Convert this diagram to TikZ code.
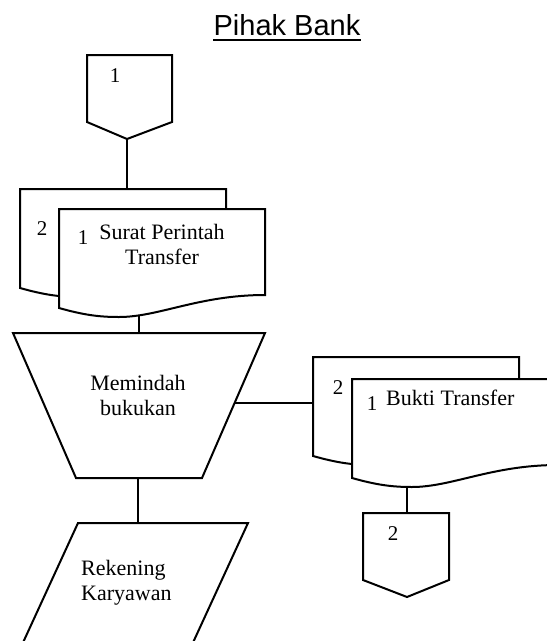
\documentclass[tikz,border=0pt]{standalone}
\usepackage{fontspec}
\setmainfont{Liberation Serif}
\newfontfamily\titlefont{Liberation Sans}
\newcommand{\flowdocshape}[2]{%
  \path[shapeline,shift={(#1,#2)}] (0,0) -- (206,0) -- (206,86)
    .. controls (140,86) and (100,108) .. (60,108)
    .. controls (40,108) and (25,106) .. (0,99) -- cycle;}
\begin{document}
\begin{tikzpicture}[x=1pt,y=-1pt,
  shapeline/.style={draw=black,line width=2pt,fill=white,line join=miter},
  link/.style={draw=black,line width=1.3pt},
  lbl/.style={inner sep=0pt,font=\fontsize{22}{25}\selectfont},
  num/.style={inner sep=0pt,font=\fontsize{21}{24}\selectfont}]
\useasboundingbox (0,0) rectangle (547,641);
\clip (0,0) rectangle (547,641);

% title
\node[inner sep=0pt,anchor=base,font=\titlefont\fontsize{29}{31}\selectfont] (title) at (287,35) {Pihak Bank};
\draw[line width=2pt] ([yshift=-5pt]title.base west) -- ([yshift=-5pt]title.base east);

% off-page connector 1
\path[shapeline] (87,55) -- (172,55) -- (172,122) -- (127,139) -- (87,122) -- cycle;
\coordinate (off1-tip) at (127,139);
\node[num] (off1-num) at (115,76) {1};

% Surat Perintah Transfer documents
\flowdocshape{20}{189}
\flowdocshape{59}{209}
\coordinate (sp-top) at (127,189);
\coordinate (sp-bottom) at (139,316);
\node[num] (spb-num) at (42,229) {2};
\node[num] (spf-num) at (83,238) {1};
\node[lbl,align=center] (sp-text) at (162,244) {Surat Perintah\\Transfer};

% manual operation (trapezoid)
\path[shapeline] (13,333) -- (265,333) -- (202,478) -- (76,478) -- cycle;
\coordinate (mb-top) at (139,333);
\coordinate (mb-bottom) at (138,478);
\coordinate (mb-right) at (235,403);
\node[lbl,align=center] (mb-text) at (138,395) {Memindah\\bukukan};

% Bukti Transfer documents
\flowdocshape{313}{357}
\flowdocshape{352}{379}
\coordinate (bt-left) at (313,403);
\coordinate (bt-bottom) at (407,486);
\node[num] (btb-num) at (338,388) {2};
\node[num] (btf-num) at (372,404) {1};
\node[lbl,anchor=west] (bt-text) at (386,398) {Bukti Transfer};

% off-page connector 2
\path[shapeline] (363,513) -- (449,513) -- (449,580) -- (407,597) -- (363,580) -- cycle;
\coordinate (off2-top) at (407,513);
\node[num] (off2-num) at (393,534) {2};

% data (parallelogram)
\path[shapeline] (78,523) -- (248,523) -- (175.8,680) -- (5.8,680) -- cycle;
\coordinate (rk-top) at (138,523);
\node[lbl,align=left,anchor=west] (rk-text) at (81,583) {Rekening\\Karyawan};

% connectors
\draw[link] (off1-tip) -- (sp-top);
\draw[link] (sp-bottom) -- (mb-top);
\draw[link] (mb-bottom) -- (rk-top);
\draw[link] (mb-right) -- (bt-left);
\draw[link] (bt-bottom) -- (off2-top);
\end{tikzpicture}
\end{document}
